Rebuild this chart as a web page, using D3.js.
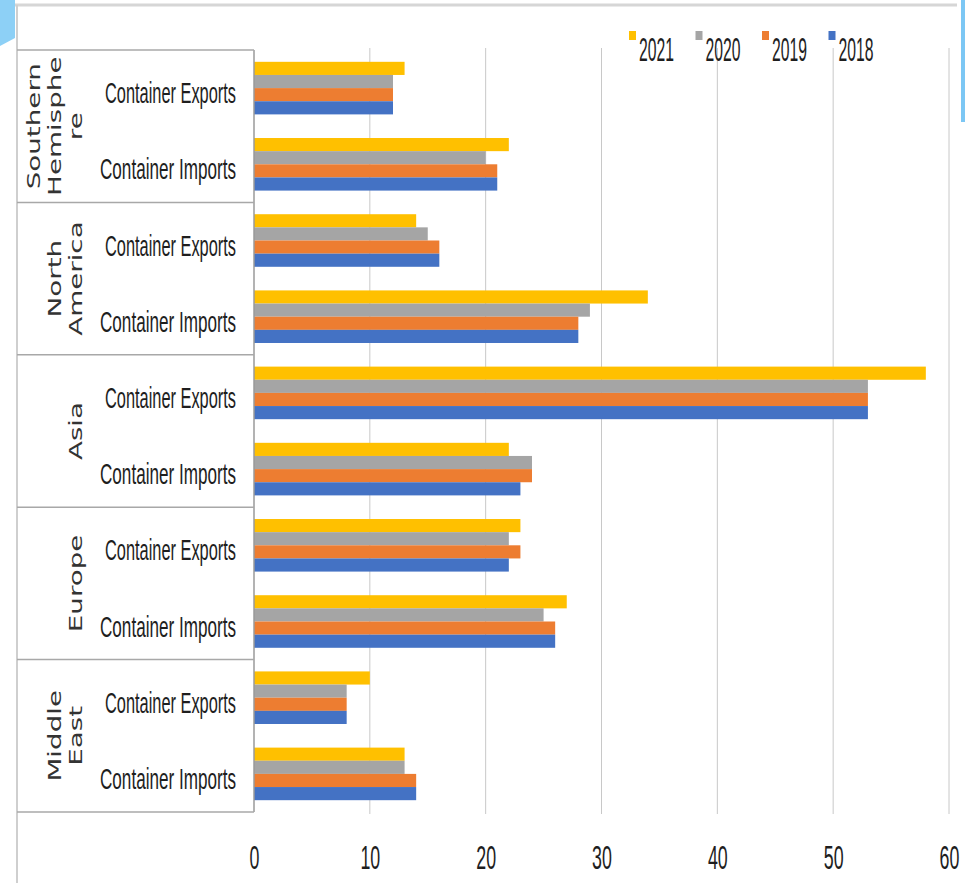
<!DOCTYPE html>
<html>
<head>
<meta charset="utf-8">
<script src="https://cdn.jsdelivr.net/npm/d3@7"></script>
<style>
  html, body { margin: 0; padding: 0; background: #fff; }
  svg { display: block; }
</style>
</head>
<body>
<svg id="chart" width="965" height="883"></svg>
<script>
// Container throughput by region (index values), four years
const regionLines = [
  ["Southern", "Hemisphe", "re"],
  ["North", "America"],
  ["Asia"],
  ["Europe"],
  ["Middle", "East"]
];
const flows = ["Container Exports", "Container Imports"];
const years = ["2021", "2020", "2019", "2018"];
const values2021 = [13, 22, 14, 34, 58, 22, 23, 27, 10, 13];
const values2020 = [12, 20, 15, 29, 53, 24, 22, 25, 8, 13];
const values2019 = [12, 21, 16, 28, 53, 24, 23, 26, 8, 14];
const values2018 = [12, 21, 16, 28, 53, 23, 22, 26, 8, 14];
const xTicks = [0, 10, 20, 30, 40, 50, 60];
const yearColors = ["#FFC000", "#A5A5A5", "#ED7D31", "#4472C4"];

const seriesValues = [values2021, values2020, values2019, values2018];

// one row per region/flow pair, top to bottom
const rows = [];
regionLines.forEach((lines, r) => {
  flows.forEach((f, k) => {
    const i = r * flows.length + k;
    rows.push({
      key: i,
      region: r,
      flow: f,
      vals: years.map((y, s) => ({ year: y, value: seriesValues[s][i] }))
    });
  });
});

const svg = d3.select("#chart");
const labelFont = "'Liberation Sans Narrow', 'Liberation Sans', Arial, sans-serif";

const plotLeft = 254, plotRight = 949, plotTop = 50, plotBottom = 812;

const x = d3.scaleLinear().domain([0, 60]).range([plotLeft, plotRight]);
const y = d3.scaleBand().domain(rows.map(d => d.key)).range([plotTop, plotBottom])
  .paddingInner(0.31).paddingOuter(0.155);
const ySub = d3.scaleBand().domain(years).range([0, y.bandwidth()]);
const regionBand = d3.scaleBand().domain(d3.range(regionLines.length)).range([plotTop, plotBottom]);

// decorative blue tabs at the corners
svg.append("path").attr("d", "M0,0 H15 V38 L0,46 Z").attr("fill", "#8DD0F6");
svg.append("rect").attr("x", 961).attr("y", 0).attr("width", 4).attr("height", 122).attr("fill", "#7CC7F4");

// outer frame
svg.append("line").attr("x1", 15).attr("x2", 957).attr("y1", 5).attr("y2", 5)
  .attr("stroke", "#d6d6d6").attr("stroke-width", 3);
svg.append("line").attr("x1", 17).attr("x2", 17).attr("y1", 5).attr("y2", 883)
  .attr("stroke", "#cfcfcf").attr("stroke-width", 2);

// vertical gridlines
svg.append("g").selectAll("line").data(xTicks.slice(1)).join("line")
  .attr("x1", d => x(d)).attr("x2", d => x(d))
  .attr("y1", 48).attr("y2", 814)
  .attr("stroke", "#c8c8c8").attr("stroke-width", 1);

// bars
const rowG = svg.append("g").selectAll("g").data(rows).join("g")
  .attr("transform", d => `translate(0,${y(d.key)})`);
rowG.selectAll("rect").data(d => d.vals).join("rect")
  .attr("x", x(0))
  .attr("y", d => ySub(d.year))
  .attr("width", d => x(d.value) - x(0))
  .attr("height", ySub.bandwidth())
  .attr("fill", (d, i) => yearColors[i]);

// category axis line
svg.append("line").attr("x1", plotLeft).attr("x2", plotLeft).attr("y1", plotTop).attr("y2", plotBottom)
  .attr("stroke", "#9a9a9a").attr("stroke-width", 1.5);

// region separators
const bounds = d3.range(regionLines.length + 1).map(i =>
  i < regionLines.length ? regionBand(i) : plotBottom);
svg.append("g").selectAll("line").data(bounds).join("line")
  .attr("x1", 17).attr("x2", plotLeft).attr("y1", d => d).attr("y2", d => d)
  .attr("stroke", "#a8a8a8").attr("stroke-width", 1.5);

// flow labels
svg.append("g").selectAll("text").data(rows).join("text")
  .attr("x", 236)
  .attr("y", d => y(d.key) + y.bandwidth() / 2 + 15)
  .attr("text-anchor", "end")
  .attr("font-family", labelFont)
  .attr("font-size", 29)
  .attr("fill", "#1e1e1e")
  .attr("textLength", d => d.flow === "Container Exports" ? 131 : 136)
  .attr("lengthAdjust", "spacingAndGlyphs")
  .text(d => d.flow);

// region labels, rotated, last line nearest the flow labels
const regG = svg.append("g").selectAll("g").data(regionLines).join("g")
  .attr("transform", (d, i) => `translate(0,${regionBand(i) + regionBand.bandwidth() / 2})`);
regG.selectAll("text").data(d => d.map((t, j) => ({ t, j, n: d.length }))).join("text")
  .attr("transform", d => `translate(${75 - 21 * (d.n - 1 - d.j)},0) rotate(-90) scale(1.5,1)`)
  .attr("text-anchor", "middle")
  .attr("dy", "0.36em")
  .attr("font-family", "'DejaVu Sans', Verdana, sans-serif")
  .attr("font-size", 18.5)
  .attr("fill", "#333")
  .text(d => d.t);

// value axis labels
const xAxis = d3.axisBottom(x).tickValues(xTicks).tickSize(0).tickPadding(0);
const axG = svg.append("g").attr("transform", `translate(0,${plotBottom})`).call(xAxis);
axG.select(".domain").remove();
axG.selectAll(".tick text")
  .attr("x", 0)
  .attr("y", 57)
  .attr("dy", 0)
  .attr("font-family", labelFont)
  .attr("font-size", 33)
  .attr("fill", "#1e1e1e")
  .attr("transform", "scale(0.54,1)");

// legend
const legend = svg.append("g").selectAll("g").data(years).join("g")
  .attr("transform", (d, i) => `translate(${629 + i * 66.5},0)`);
legend.append("rect").attr("x", 0).attr("y", 31).attr("width", 7).attr("height", 9)
  .attr("fill", (d, i) => yearColors[i]);
legend.append("text")
  .attr("x", 10).attr("y", 61)
  .attr("font-family", labelFont)
  .attr("font-size", 33)
  .attr("fill", "#1e1e1e")
  .attr("textLength", 35)
  .attr("lengthAdjust", "spacingAndGlyphs")
  .text(d => d);
</script>
</body>
</html>
